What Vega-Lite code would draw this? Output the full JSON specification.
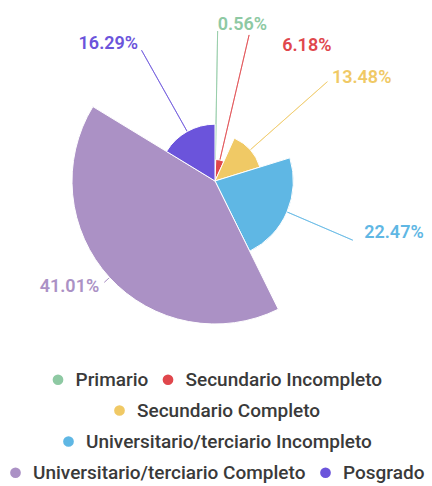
{
  "$schema": "https://vega.github.io/schema/vega-lite/v6.json",
  "width": 430,
  "height": 362,
  "padding": 0,
  "background": "white",
  "data": {"values": [
    {"category": "Primario", "value": 0.56, "order": 1, "label": "0.56%"},
    {"category": "Secundario Incompleto", "value": 6.18, "order": 2, "label": "6.18%"},
    {"category": "Secundario Completo", "value": 13.48, "order": 3, "label": "13.48%"},
    {"category": "Universitario/terciario Incompleto", "value": 22.47, "order": 4, "label": "22.47%"},
    {"category": "Universitario/terciario Completo", "value": 41.01, "order": 5, "label": "41.01%"},
    {"category": "Posgrado", "value": 16.29, "order": 6, "label": "16.29%"}
  ]},
  "encoding": {
    "theta": {"field": "value", "type": "quantitative", "stack": true},
    "order": {"field": "order", "type": "quantitative"}
  },
  "layer": [
    {
      "mark": {"type": "arc", "padAngle": 3.1, "filled": false, "strokeWidth": 1, "radius2": 150, "opacity": 0.7},
      "encoding": {
        "radius": {"field": "value", "type": "quantitative", "scale": {"type": "linear", "zero": true, "range": [0, 143]}},
        "color": {"field": "category", "type": "nominal", "legend": null,
          "scale": {"domain": ["Primario", "Secundario Incompleto", "Secundario Completo", "Universitario/terciario Incompleto", "Universitario/terciario Completo", "Posgrado"],
                    "range": ["#8ec9a3", "#e0474c", "#f0c965", "#5fb7e4", "#ab91c5", "#6b54db"]}}
      }
    },
    {
      "mark": {"type": "arc", "stroke": "white", "strokeWidth": 1},
      "encoding": {
        "radius": {"field": "value", "type": "quantitative", "scale": {"type": "linear", "zero": true, "range": [0, 143]}},
        "color": {"field": "category", "type": "nominal", "legend": null,
          "scale": {"domain": ["Primario", "Secundario Incompleto", "Secundario Completo", "Universitario/terciario Incompleto", "Universitario/terciario Completo", "Posgrado"],
                    "range": ["#8ec9a3", "#e0474c", "#f0c965", "#5fb7e4", "#ab91c5", "#6b54db"]}}
      }
    },
    {
      "mark": {"type": "text", "radius": 157, "align": "right", "baseline": "middle", "fontSize": 18, "fontWeight": 600, "font": "Roboto"},
      "encoding": {
        "text": {"condition": {"test": "datum.category === 'Posgrado' || datum.category === 'Universitario/terciario Completo'", "field": "label", "type": "nominal"}, "value": ""},
        "color": {"field": "category", "type": "nominal", "legend": null,
          "scale": {"domain": ["Primario", "Secundario Incompleto", "Secundario Completo", "Universitario/terciario Incompleto", "Universitario/terciario Completo", "Posgrado"],
                    "range": ["#8ec9a3", "#e0474c", "#f0c965", "#5fb7e4", "#ab91c5", "#6b54db"]}}
      }
    },
    {
      "mark": {"type": "text", "radius": 156, "align": "left", "baseline": "middle", "fontSize": 18, "fontWeight": 600, "font": "Roboto"},
      "encoding": {
        "text": {"condition": {"test": "datum.category === 'Primario' || datum.category === 'Secundario Completo'", "field": "label", "type": "nominal"}, "value": ""},
        "color": {"field": "category", "type": "nominal", "legend": null,
          "scale": {"domain": ["Primario", "Secundario Incompleto", "Secundario Completo", "Universitario/terciario Incompleto", "Universitario/terciario Completo", "Posgrado"],
                    "range": ["#8ec9a3", "#e0474c", "#f0c965", "#5fb7e4", "#ab91c5", "#6b54db"]}}
      }
    },
    {
      "mark": {"type": "text", "radius": 158, "thetaOffset": -0.07, "align": "left", "baseline": "middle", "fontSize": 18, "fontWeight": 600, "font": "Roboto"},
      "encoding": {
        "text": {"condition": {"test": "datum.category === 'Universitario/terciario Incompleto'", "field": "label", "type": "nominal"}, "value": ""},
        "color": {"field": "category", "type": "nominal", "legend": null,
          "scale": {"domain": ["Primario", "Secundario Incompleto", "Secundario Completo", "Universitario/terciario Incompleto", "Universitario/terciario Completo", "Posgrado"],
                    "range": ["#8ec9a3", "#e0474c", "#f0c965", "#5fb7e4", "#ab91c5", "#6b54db"]}}
      }
    },
    {
      "mark": {"type": "text", "radius": 151, "thetaOffset": 0.232, "align": "left", "baseline": "middle", "fontSize": 18, "fontWeight": 600, "font": "Roboto"},
      "encoding": {
        "text": {"condition": {"test": "datum.category === 'Secundario Incompleto'", "field": "label", "type": "nominal"}, "value": ""},
        "color": {"field": "category", "type": "nominal", "legend": null,
          "scale": {"domain": ["Primario", "Secundario Incompleto", "Secundario Completo", "Universitario/terciario Incompleto", "Universitario/terciario Completo", "Posgrado"],
                    "range": ["#8ec9a3", "#e0474c", "#f0c965", "#5fb7e4", "#ab91c5", "#6b54db"]}}
      }
    },
    {
      "transform": [{"filter": {"field": "category", "oneOf": ["Primario", "Secundario Incompleto"]}}],
      "mark": {"type": "arc", "radius": 0},
      "encoding": {
        "color": {"field": "category", "type": "nominal", "title": null,
          "scale": {"domain": ["Primario", "Secundario Incompleto"], "range": ["#8ec9a3", "#e0474c"]}}
      }
    },
    {
      "transform": [{"filter": {"field": "category", "oneOf": ["Secundario Completo"]}}],
      "mark": {"type": "arc", "radius": 0},
      "encoding": {
        "color": {"field": "category", "type": "nominal", "title": null,
          "scale": {"domain": ["Secundario Completo"], "range": ["#f0c965"]}}
      }
    },
    {
      "transform": [{"filter": {"field": "category", "oneOf": ["Universitario/terciario Incompleto"]}}],
      "mark": {"type": "arc", "radius": 0},
      "encoding": {
        "color": {"field": "category", "type": "nominal", "title": null,
          "scale": {"domain": ["Universitario/terciario Incompleto"], "range": ["#5fb7e4"]}}
      }
    },
    {
      "transform": [{"filter": {"field": "category", "oneOf": ["Universitario/terciario Completo", "Posgrado"]}}],
      "mark": {"type": "arc", "radius": 0},
      "encoding": {
        "color": {"field": "category", "type": "nominal", "title": null,
          "scale": {"domain": ["Universitario/terciario Completo", "Posgrado"], "range": ["#ab91c5", "#6b54db"]}}
      }
    }
  ],
  "resolve": {"scale": {"color": "independent"}, "legend": {"color": "independent"}},
  "config": {
    "view": {"stroke": null},
    "legend": {
      "orient": "bottom",
      "direction": "horizontal",
      "offset": 8,
      "symbolType": "circle",
      "symbolSize": 115,
      "symbolStrokeWidth": 0,
      "labelFont": "Roboto",
      "labelFontSize": 19,
      "labelFontWeight": 500,
      "labelColor": "#3a3a3a",
      "labelOffset": 8,
      "labelLimit": 0,
      "columnPadding": 10,
      "layout": {"bottom": {"anchor": "middle", "direction": "vertical", "center": true, "margin": 11}}
    }
  }
}
